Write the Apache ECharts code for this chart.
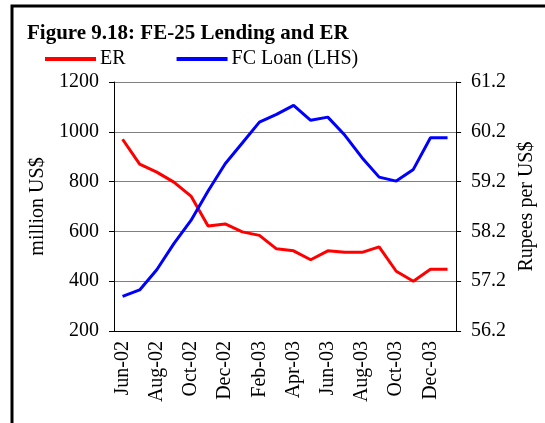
<!DOCTYPE html>
<html>
<head>
<meta charset="utf-8">
<script src="https://cdn.jsdelivr.net/npm/echarts@6/dist/echarts.min.js"></script>
<style>
html, body { margin: 0; padding: 0; background: #fff; }
#main { width: 545px; height: 423px; }
</style>
</head>
<body>
<div id="main"></div>
<script>
// Months Jun-02 .. Jan-04
var months = ['Jun-02','Jul-02','Aug-02','Sep-02','Oct-02','Nov-02','Dec-02','Jan-03','Feb-03','Mar-03',
	'Apr-03','May-03','Jun-03','Jul-03','Aug-03','Sep-03','Oct-03','Nov-03','Dec-03','Jan-04'];
// FC Loan, million US$ (left axis)
var fcLoan = [339,365,446,551,644,762,872,955,1039,1070,1106,1046,1059,986,896,818,802,849,976,976];
// ER, Rupees per US$ (right axis)
var erRate = [60.05,59.55,59.39,59.19,58.91,58.31,58.35,58.19,58.12,57.85,57.81,57.63,57.81,57.78,57.78,57.89,57.40,57.20,57.44,57.44];

var serif = 'Liberation Serif';
var fs = 20;
var myChart = echarts.init(document.getElementById('main'));

var option = {
	backgroundColor: '#fff',
	animation: false,
	title: {
		text: 'Figure 9.18: FE-25 Lending and ER',
		left: 22,
		top: 18,
		textStyle: {
			fontFamily: serif,
			fontSize: 21,
			fontWeight: 'bold',
			color: '#000'
		}
	},
	legend: {
		left: 40,
		top: 44,
		itemWidth: 51,
		itemHeight: 4,
		itemGap: 51,
		icon: 'rect',
		data: ['ER', 'FC Loan (LHS)'],
		textStyle: {
			fontFamily: serif,
			fontSize: fs,
			color: '#000',
			padding: [0, 0, 0, -1]
		}
	},
	graphic: [{
		type: 'rect',
		shape: { x: 12, y: 6, width: 620, height: 520 },
		style: { fill: 'none', stroke: '#000', lineWidth: 3 },
		silent: true
	}],
	grid: {
		left: 114,
		right: 87,
		top: 82,
		bottom: 92
	},
	xAxis: {
		type: 'category',
		data: months,
		boundaryGap: true,
		axisLine: { lineStyle: { color: '#000', width: 1 } },
		axisTick: { interval: 0, length: 5, lineStyle: { color: '#000' } },
		axisLabel: {
			interval: 1,
			rotate: 90,
			margin: 10,
			fontFamily: serif,
			fontSize: fs,
			color: '#000'
		}
	},
	yAxis: [{
		type: 'value',
		name: 'million US$',
		nameLocation: 'middle',
		nameGap: 62,
		nameRotate: 90,
		nameTextStyle: { fontFamily: serif, fontSize: fs, color: '#000' },
		min: 200,
		max: 1200,
		interval: 200,
		axisLine: { show: true, lineStyle: { color: '#000' } },
		axisTick: { show: true, length: 5, lineStyle: { color: '#000' } },
		axisLabel: {
			fontFamily: serif, fontSize: fs, color: '#000', margin: 15,
			formatter: function (v) { return String(v); }
		},
		splitLine: { show: true, lineStyle: { color: '#808080', width: 1 } }
	}, {
		type: 'value',
		name: 'Rupees per US$',
		nameLocation: 'middle',
		nameGap: 52,
		nameRotate: 90,
		nameTextStyle: { fontFamily: serif, fontSize: fs, color: '#000' },
		position: 'right',
		min: 56.2,
		max: 61.2,
		interval: 1,
		axisLine: { show: true, lineStyle: { color: '#000' } },
		axisTick: { show: true, length: 5, lineStyle: { color: '#000' } },
		axisLabel: {
			fontFamily: serif, fontSize: fs, color: '#000', margin: 15,
			formatter: function (v) { return v.toFixed(1); }
		},
		splitLine: { show: false }
	}],
	series: [{
		name: 'ER',
		type: 'line',
		yAxisIndex: 1,
		data: erRate,
		symbol: 'none',
		itemStyle: { color: '#ff0000' },
		lineStyle: { color: '#ff0000', width: 3 }
	}, {
		name: 'FC Loan (LHS)',
		type: 'line',
		yAxisIndex: 0,
		data: fcLoan,
		symbol: 'none',
		itemStyle: { color: '#0000ff' },
		lineStyle: { color: '#0000ff', width: 3 }
	}]
};

myChart.setOption(option);
</script>
</body>
</html>
